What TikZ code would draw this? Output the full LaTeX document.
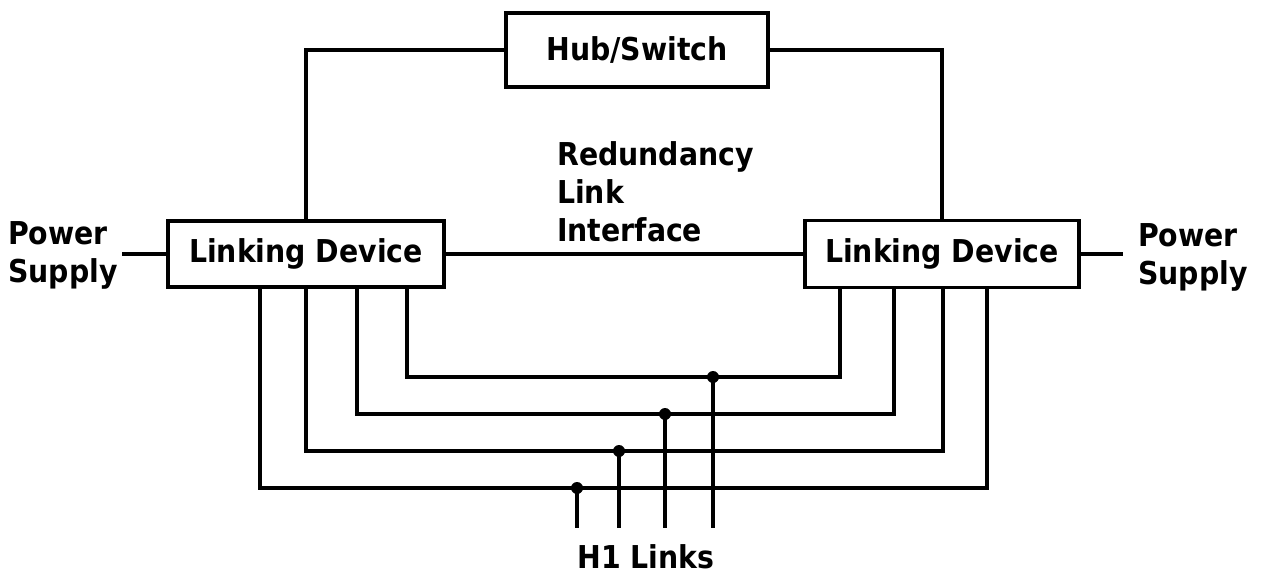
\documentclass[tikz,border=0pt]{standalone}
\usepackage{fontspec}
\setmainfont{DejaVu Sans}[FakeStretch=0.9]
\begin{document}
\begin{tikzpicture}[x=1pt,y=-1pt,
  lw/.style={line width=3.3pt},
  box/.style={draw,line width=3.3pt,inner sep=0pt,font=\bfseries\fontsize{31.5}{38}\selectfont},
  lbl/.style={inner sep=0pt,align=left,font=\bfseries\fontsize{31.5}{38}\selectfont},
  dot/.style={circle,fill,inner sep=0pt,minimum size=12pt}]
\useasboundingbox[fill=white] (0,0) rectangle (1264,575);
% boxes
\node[box,minimum width=262pt,minimum height=74pt] (hub) at (637,50) {Hub/Switch};
\node[box,minimum width=276pt,minimum height=66pt] (L) at (306,254) {Linking Device};
\node[box,minimum width=274pt,minimum height=67pt] (R) at (942,254) {Linking Device};
% labels (base anchor = last line)
\node[lbl,anchor=base west] (psl) at (8,282) {Power\\Supply};
\node[lbl,anchor=base west] (psr) at (1138,284) {Power\\Supply};
\node[lbl,anchor=base west] (rli) at (557,241) {Redundancy\\Link\\Interface};
\node[lbl,anchor=base] (h1) at (646,568) {H1 Links};
% ring via hub
\draw[lw] (hub.west) -| (L.north);
\draw[lw] (hub.east) -| (R.north);
\draw[lw] (L.east) -- (R.west);
% power
\coordinate (pl) at (122,254);
\coordinate (pr) at (1123,254);
\draw[lw] (pl) -- (L.west);
\draw[lw] (R.east) -- (pr);
% H1 loops
\coordinate (a1) at (407,377); \coordinate (b1) at (840,377);
\coordinate (a2) at (357,414); \coordinate (b2) at (894,414);
\coordinate (a3) at (306,451); \coordinate (b3) at (943,451);
\coordinate (a4) at (260,488); \coordinate (b4) at (987,488);
\draw[lw] (L.south -| a1) -- (a1) -- (b1) -- (R.south -| b1);
\draw[lw] (L.south -| a2) -- (a2) -- (b2) -- (R.south -| b2);
\draw[lw] (L.south -| a3) -- (a3) -- (b3) -- (R.south -| b3);
\draw[lw] (L.south -| a4) -- (a4) -- (b4) -- (R.south -| b4);
% taps
\node[dot] (d1) at (713,377) {};
\node[dot] (d2) at (665,414) {};
\node[dot] (d3) at (619,451) {};
\node[dot] (d4) at (577,488) {};
\coordinate (e1) at (713,528);
\coordinate (e2) at (665,528);
\coordinate (e3) at (619,528);
\coordinate (e4) at (577,528);
\draw[lw] (d1.center) -- (e1);
\draw[lw] (d2.center) -- (e2);
\draw[lw] (d3.center) -- (e3);
\draw[lw] (d4.center) -- (e4);
\end{tikzpicture}
\end{document}
